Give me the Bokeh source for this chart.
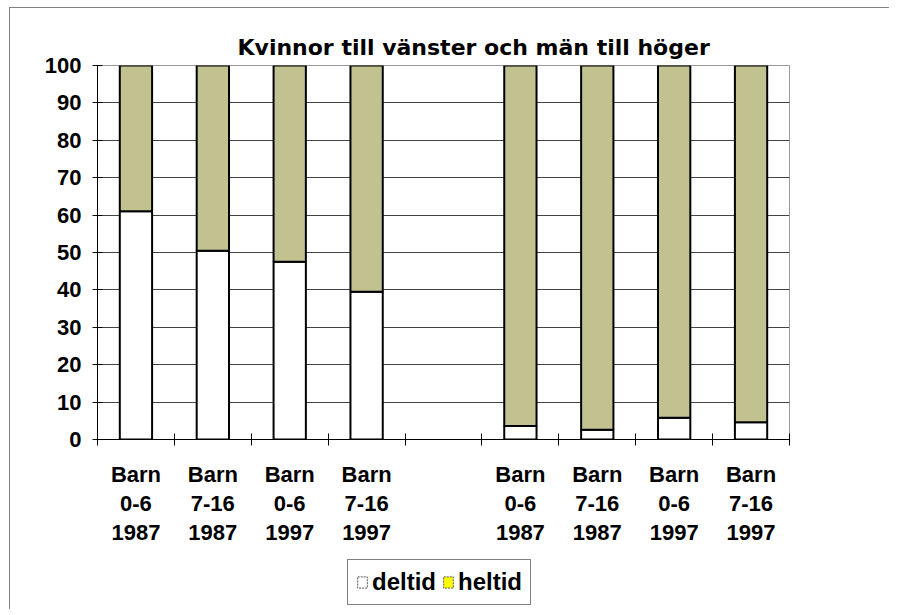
from bokeh.plotting import figure
from bokeh.layouts import column
from bokeh.models import (Range1d, LinearAxis, FixedTicker,
                          Legend, LegendItem, ColumnDataSource, Title)
from bokeh.embed import file_html
from bokeh.resources import INLINE

# ---- data ----
title_text = "Kvinnor till vänster och män till höger"
categories = ["K 0-6 1987", "K 7-16 1987", "K 0-6 1997", "K 7-16 1997",
              "M 0-6 1987", "M 7-16 1987", "M 0-6 1997", "M 7-16 1997"]
gap = " "
slots = categories[:4] + [gap] + categories[4:]
line1 = ["Barn", "Barn", "Barn", "Barn", "Barn", "Barn", "Barn", "Barn"]
line2 = ["0-6", "7-16", "0-6", "7-16", "0-6", "7-16", "0-6", "7-16"]
line3 = ["1987", "1987", "1997", "1997", "1987", "1987", "1997", "1997"]
deltid = [61.0, 50.5, 47.5, 39.5, 3.6, 2.6, 5.8, 4.6]
heltid = [39.0, 49.5, 52.5, 60.5, 96.4, 97.4, 94.2, 95.4]
y_ticks = [0, 10, 20, 30, 40, 50, 60, 70, 80, 90, 100]
grid_ticks = [10, 20, 30, 40, 50, 60, 70, 80, 90]
series_names = ["deltid", "heltid"]

OLIVE = "#C2C291"
FONT = "Liberation Sans"
FRAME_GRAY = "#808080"

# slot centres / boundaries on a numeric category scale
centres = [slots.index(c) + 0.5 for c in categories]
bounds = list(range(len(slots) + 1))

source = ColumnDataSource(dict(x=centres, deltid=deltid, heltid=heltid))

p = figure(width=880, height=542, output_backend="svg", toolbar_location=None,
           x_range=Range1d(0, len(slots)), y_range=Range1d(0, 100),
           x_axis_type=None, min_border_left=87, min_border_right=101,
           min_border_top=57, min_border_bottom=111)
p.margin = (7, 0, 0, 9)
p.styles = {"border-left": "1px solid " + FRAME_GRAY, "border-top": "1px solid " + FRAME_GRAY}
p.background_fill_color = "white"
p.border_fill_color = "white"
p.outline_line_color = "#999999"
p.outline_line_width = 1

p.title = Title(text=title_text, align="left", offset=140, standoff=12,
                text_font="DejaVu Sans", text_font_style="bold",
                text_font_size="22px", text_color="black")

# y axis
p.yaxis.ticker = FixedTicker(ticks=y_ticks)
p.yaxis.major_tick_in = 5
p.yaxis.major_tick_out = 5
p.yaxis.minor_tick_line_color = None
p.yaxis.axis_line_color = "black"
p.yaxis.major_tick_line_color = "black"
p.yaxis.major_label_text_font = FONT
p.yaxis.major_label_text_font_style = "bold"
p.yaxis.major_label_text_font_size = "22px"
p.yaxis.major_label_text_color = "black"
p.yaxis.major_label_standoff = 11

p.ygrid.ticker = FixedTicker(ticks=grid_ticks)
p.ygrid.grid_line_color = "#444444"

def label_axis(lines, standoff, with_ticks=False):
    overrides = {x: t for x, t in zip(centres, lines)}
    if with_ticks:
        ticker = FixedTicker(ticks=centres, minor_ticks=bounds)
    else:
        ticker = FixedTicker(ticks=centres)
    ax = LinearAxis(ticker=ticker, major_label_overrides=overrides,
                    major_tick_line_color=None, major_tick_in=0, major_tick_out=0,
                    major_label_text_font=FONT,
                    major_label_text_font_style="bold",
                    major_label_text_font_size="22px",
                    major_label_text_color="black",
                    major_label_standoff=standoff)
    if with_ticks:
        ax.axis_line_color = "black"
        ax.minor_tick_line_color = "black"
        ax.minor_tick_in = 6
        ax.minor_tick_out = 6
    else:
        ax.axis_line_color = None
        ax.minor_tick_line_color = None
    p.add_layout(ax, "below")
    return ax

label_axis(line1, 16, with_ticks=True)
label_axis(line2, 6)
label_axis(line3, 11)

# bars
p.vbar_stack(series_names, x="x", width=0.42, source=source,
             fill_color=["white", OLIVE], line_color="black", line_width=2)

# legend strip below the chart
q = figure(width=880, height=60, output_backend="svg", toolbar_location=None,
           x_range=Range1d(0, 1), y_range=Range1d(0, 1),
           x_axis_type=None, y_axis_type=None,
           min_border_left=0, min_border_right=0, min_border_top=0, min_border_bottom=0)
q.margin = (0, 0, 0, 9)
q.styles = {"border-left": "1px solid " + FRAME_GRAY}
q.outline_line_color = None
q.background_fill_color = "white"
q.border_fill_color = "white"
q.xgrid.visible = False
q.ygrid.visible = False

r_del = q.vbar(x=[0.5], top=[0], width=0.1, fill_color="white",
               line_color="#555555", line_dash="2 1", line_width=1, visible=False)
r_hel = q.vbar(x=[0.5], top=[0], width=0.1, fill_color="#FFFF00",
               line_color="#555555", line_dash="2 1", line_width=1, visible=False)
legend = Legend(items=[LegendItem(label=series_names[0], renderers=[r_del]),
                       LegendItem(label=series_names[1], renderers=[r_hel])],
                orientation="horizontal", location=(250, 4),
                inactive_fill_alpha=0.0,
                label_text_font=FONT, label_text_font_style="bold",
                label_text_font_size="24px", label_text_color="black",
                glyph_width=12, glyph_height=14, label_standoff=4,
                spacing=6, padding=8, margin=0,
                border_line_color="black", border_line_width=1,
                background_fill_color="white")
q.add_layout(legend, "center")

layout = column(p, q, spacing=0)
open("out.html", "w").write(file_html(layout, INLINE))
